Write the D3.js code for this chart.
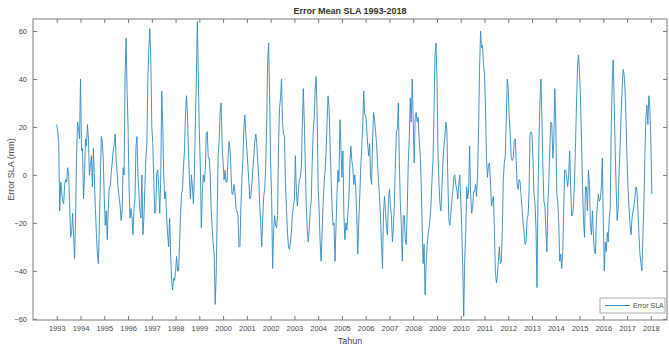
<!DOCTYPE html>
<html>
<head>
<meta charset="utf-8">
<script src="https://cdn.jsdelivr.net/npm/d3@7"></script>
<style>
  html, body { margin: 0; padding: 0; background: #fff; }
  svg { display: block; font-family: "Liberation Sans", Arial, sans-serif; }
</style>
</head>
<body>
<svg id="chart" width="669" height="348"></svg>
<script>
// Semi-monthly mean SLA error (mm), one row per year from January 1993
const startYear = 1993;
const stepsPerYear = 24;
const slaError = [
  21, 18, 13, -15, -3, -7, -11, -12, -4, -2, -3, 3, 0, -12, -26, -24, -16, -25, -35, -18, 8, 22, 19, 15,
  40, 10, 11, -10, -1, 15, 12, 21, 15, 0, 4, 8, -5, 11, -2, -14, -24, -33, -37, -22, -2, 16, 14, 6,
  -10, -21, -15, -27, -14, -5, -5, 1, 5, 10, 13, 17, 6, 1, -6, -9, -13, -19, -15, 3, 0, 42, 57, 36,
  20, -5, -18, -14, -18, -25, -14, -10, 12, 16, 0, -8, -15, -18, 0, -25, -18, -5, 7, 13, 40, 53, 61, 48,
  20, 13, -2, -16, -15, 1, 2, -5, -16, -2, 35, 22, 0, -10, -7, -18, -25, -30, -18, -33, -44, -48, -43, -44,
  -40, -34, -40, -40, -29, -17, -8, -6, 4, 10, 25, 33, 25, 10, -2, -10, 0, -5, -12, 0, 22, 40, 64, 40,
  18, 3, -22, -8, 0, -3, 2, 17, 18, 7, 7, 0, -15, -22, -29, -33, -54, -42, -17, 8, 14, 26, 30, 12,
  5, -2, 2, -3, -3, 7, 14, 11, 1, -8, -8, -4, -7, -14, -15, -17, -30, -30, -13, -2, 7, 20, 25, 17,
  11, 4, -3, -10, -9, -4, 2, 8, 14, 17, 13, 5, -1, -13, -20, -30, -18, -9, -6, 3, 22, 48, 55, 33,
  5, -9, -39, -24, -17, -21, -22, -17, 13, 28, 32, 40, 22, 17, 16, -4, -14, -24, -30, -31, -28, -24, -16, -13,
  -10, 8, -7, -13, -7, -2, -1, 3, 21, 36, 22, 5, -13, -23, -28, -23, -14, -11, 5, 18, 24, 36, 41, 25,
  -5, -15, -28, -36, -24, -12, -4, 2, 9, 22, 33, 28, 14, -1, -13, -21, -20, -36, -22, -8, 2, -3, 23, 12,
  -1, 10, -17, -27, -20, -23, -16, -10, 4, 12, 6, 3, -4, 0, -6, -17, -33, -20, -9, 3, 11, 20, 35, 25,
  25, 20, 13, 8, 13, -1, -4, 15, 26, 23, 18, 13, 5, -3, -9, -18, -29, -39, -16, -9, -15, -22, -25, -11,
  -6, -13, -17, -28, -22, -12, 5, 18, 19, 30, 5, -12, -21, -36, -17, -17, -27, -29, -14, 5, 15, 32, 22, 40,
  23, 5, 24, 26, 22, 24, 15, 9, -2, -20, -37, -29, -50, -38, -30, -25, -22, -18, -12, -2, 6, 26, 50, 55,
  40, 10, -3, -12, -15, -5, 5, 12, 16, 22, 19, -3, -19, -21, -16, -11, -7, -1, 0, -4, -6, -10, -4, 0,
  -10, -22, -38, -59, -35, -25, -5, -10, -6, 12, -8, -16, -14, -7, -7, -4, -9, 0, 19, 44, 60, 53, 54, 46,
  42, 28, 7, -1, 4, 5, -3, -13, -11, -9, -23, -40, -45, -42, -36, -30, -37, -36, -23, -2, 5, 8, 24, 40,
  36, 24, 17, 7, 6, 7, 14, 15, 6, -4, -6, -2, -3, -9, -14, -20, -24, -29, -28, -18, -17, -7, 17, 18,
  17, 6, -8, -12, -22, -47, -10, 14, 31, 40, 23, 3, -11, -13, -23, -32, -12, -3, 12, 22, 21, 7, 14, 36,
  22, -8, -11, -20, -36, -33, -39, -32, -15, 2, 2, -1, -5, 0, 10, -5, -17, -17, -12, -1, 14, 31, 46, 50,
  42, 32, 14, -4, -19, -26, -5, -5, -15, 2, -4, -21, -25, -15, -25, -32, -33, -19, -13, -8, -11, -10, -5, 7,
  -20, -40, -28, -32, -24, -28, -18, -14, 20, 38, 48, 30, 10, -6, -19, -14, 2, 12, 25, 36, 44, 42, 35, 22,
  6, -6, -14, -21, -25, -18, -15, -13, -9, -5, -7, -15, -25, -33, -37, -40, -25, -12, 8, 24, 29, 21, 33, 28,
  15, -8
];
const yearTicks = d3.range(1993, 2019);
const slaTicks = [-60, -40, -20, 0, 20, 40, 60];
const seriesName = "Error SLA";

const series = slaError.map((v, i) => ({ t: startYear + i / stepsPerYear, v }));

const svg = d3.select("#chart");
const plot = { left: 33, right: 667, top: 19, bottom: 320 };

const x = d3.scaleLinear().domain([1992, 2018.68]).range([plot.left, plot.right]);
const y = d3.scaleLinear().domain([-60.5, 65]).range([plot.bottom, plot.top]);

const axisColor = "#7a7a7a";
const textColor = "#4a4a4a";
const lineColor = "#3189c2";

// Data line, clipped to the axes box
svg.append("clipPath").attr("id", "plotClip")
  .append("rect")
  .attr("x", plot.left).attr("y", plot.top)
  .attr("width", plot.right - plot.left).attr("height", plot.bottom - plot.top);

svg.append("path")
  .datum(series)
  .attr("clip-path", "url(#plotClip)")
  .attr("fill", "none")
  .attr("stroke", lineColor)
  .attr("stroke-width", 0.9)
  .attr("stroke-linejoin", "round")
  .attr("d", d3.line().x(d => x(d.t)).y(d => y(d.v)));

// Axes with inward ticks on all four sides
function styleAxis(g) {
  g.select(".domain").remove();
  g.selectAll(".tick line").attr("stroke", axisColor);
  g.selectAll(".tick text")
    .attr("fill", textColor)
    .attr("font-size", "7.5px");
}

svg.append("g")
  .attr("transform", `translate(0,${plot.bottom})`)
  .call(d3.axisBottom(x).tickValues(yearTicks).tickFormat(d3.format("d"))
    .tickSizeInner(-4).tickSizeOuter(0).tickPadding(6))
  .call(styleAxis);

svg.append("g")
  .attr("transform", `translate(0,${plot.top})`)
  .call(d3.axisTop(x).tickValues(yearTicks).tickFormat("")
    .tickSizeInner(-4).tickSizeOuter(0))
  .call(styleAxis);

svg.append("g")
  .attr("transform", `translate(${plot.left},0)`)
  .call(d3.axisLeft(y).tickValues(slaTicks)
    .tickSizeInner(-4).tickSizeOuter(0).tickPadding(6))
  .call(styleAxis);

svg.append("g")
  .attr("transform", `translate(${plot.right},0)`)
  .call(d3.axisRight(y).tickValues(slaTicks).tickFormat("")
    .tickSizeInner(-4).tickSizeOuter(0))
  .call(styleAxis);

// Axes box
svg.append("rect")
  .attr("x", plot.left).attr("y", plot.top)
  .attr("width", plot.right - plot.left).attr("height", plot.bottom - plot.top)
  .attr("fill", "none").attr("stroke", axisColor).attr("stroke-width", 1);

// Title and axis labels
svg.append("text")
  .attr("x", (plot.left + plot.right) / 2).attr("y", 14)
  .attr("text-anchor", "middle")
  .attr("font-size", "9px").attr("font-weight", "bold").attr("fill", "#333")
  .text("Error Mean SLA 1993-2018");

svg.append("text")
  .attr("x", (plot.left + plot.right) / 2).attr("y", 344)
  .attr("text-anchor", "middle")
  .attr("font-size", "9px").attr("fill", textColor)
  .text("Tahun");

svg.append("text")
  .attr("transform", `translate(14,${(plot.top + plot.bottom) / 2}) rotate(-90)`)
  .attr("text-anchor", "middle")
  .attr("font-size", "9px").attr("fill", textColor)
  .text("Error SLA (mm)");

// Legend
const legend = svg.append("g").attr("transform", "translate(600,298)");
legend.append("rect")
  .attr("width", 65).attr("height", 15)
  .attr("fill", "#fff").attr("stroke", "#9a9a9a").attr("stroke-width", 0.8);
legend.append("line")
  .attr("x1", 5).attr("x2", 30).attr("y1", 7.5).attr("y2", 7.5)
  .attr("stroke", lineColor).attr("stroke-width", 1);
legend.append("text")
  .attr("x", 33).attr("y", 10)
  .attr("font-size", "7px").attr("fill", textColor)
  .text(seriesName);
</script>
</body>
</html>
